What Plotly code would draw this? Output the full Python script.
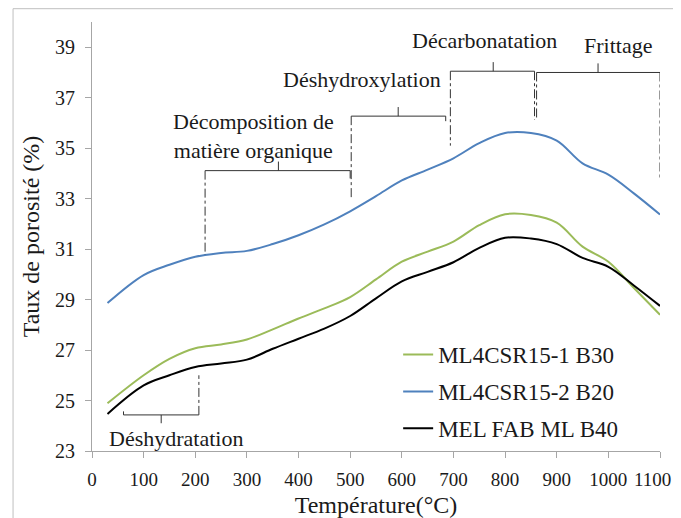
import plotly.graph_objects as go

temperature = [30, 100, 150, 200, 250, 300, 350, 400, 450, 500, 550,
               600, 650, 700, 750, 800, 850, 900, 950, 1000, 1050, 1100]
b30 = [24.89, 26.0, 26.65, 27.07, 27.22, 27.42, 27.82, 28.25, 28.65, 29.1, 29.8,
       30.5, 30.9, 31.3, 31.95, 32.38, 32.35, 32.05, 31.1, 30.5, 29.45, 28.4]
b20 = [28.86, 29.97, 30.38, 30.7, 30.85, 30.93, 31.2, 31.55, 31.98, 32.5, 33.1,
       33.72, 34.15, 34.6, 35.2, 35.6, 35.6, 35.3, 34.4, 33.95, 33.2, 32.37]
b40 = [24.47, 25.6, 26.0, 26.33, 26.47, 26.62, 27.05, 27.45, 27.85, 28.35, 29.05,
       29.72, 30.1, 30.48, 31.05, 31.45, 31.42, 31.2, 30.65, 30.3, 29.55, 28.75]

series_names = ["ML4CSR15-1 B30", "ML4CSR15-2 B20", "MEL FAB ML B40"]
series_colors = ["#9BBB59", "#4F81BD", "#000000"]

x_ticks = list(range(0, 1101, 100))
x_labels = [str(v) for v in x_ticks]
y_ticks = list(range(23, 40, 2))

# phases: label, text x, text y, bracket x0, x1, bracket y, nub x, left end y, right end y
phases = [
    ("Déshydratation", 162, 23.5, 61, 207, 24.43, 134, 24.57, 26.0),
    ("Décomposition de<br>matière organique", 313, 35.5, 219, 500, 34.11, 361, 30.77, 33.8),
    ("Déshydroxylation", 522, 37.72, 502, 685, 36.27, 593, 32.96, 36.07),
    ("Décarbonatation", 761, 39.28, 694, 857, 38.05, 777, 35.1, 36.13),
    ("Frittage", 1018, 39.08, 861, 1100, 38.0, 980, 36.13, 33.75),
]

FONT = "Liberation Serif"
TXT = "#1a1a1a"
fig = go.Figure()
for i, (name, vals) in enumerate(zip(series_names, [b30, b20, b40])):
    fig.add_trace(go.Scatter(x=temperature, y=vals, mode="lines", name=name,
                             line=dict(color=series_colors[i], width=2, shape="spline"),
                             legendgroup=name))

brk = dict(color="#333333", width=1)
dd = dict(color="#333333", width=1, dash="dashdot")
for k, (label, tx, ty, x0, x1, yb, xn, yl, yr) in enumerate(phases):
    fig.add_shape(type="line", x0=x0, x1=x1, y0=yb, y1=yb, line=brk)
    if k == 0:
        # bracket below the curve, nub points down
        fig.add_shape(type="line", x0=xn, x1=xn, y0=yb, y1=yb - 0.33, line=brk)
        fig.add_shape(type="line", x0=x0, x1=x0, y0=yb, y1=yl, line=brk)
        fig.add_shape(type="line", x0=x1, x1=x1, y0=yb, y1=yr, line=dd)
    else:
        fig.add_shape(type="line", x0=xn, x1=xn, y0=yb, y1=yb + 0.36, line=brk)
        fig.add_shape(type="line", x0=x0, x1=x0, y0=yb, y1=yl, line=dd)
        if k in (1, 2):
            fig.add_shape(type="line", x0=x1, x1=x1, y0=yb, y1=yr, line=brk)
        else:
            fig.add_shape(type="line", x0=x1, x1=x1, y0=yb, y1=yr, line=dd)
    fig.add_annotation(x=tx, y=ty, text=label, showarrow=False,
                       font=dict(family=FONT, size=22, color=TXT))

# last x tick label drawn by hand so it isn't clipped at the right edge
fig.add_annotation(x=x_ticks[-1], y=0, yref="paper", text=x_labels[-1], showarrow=False,
                   xanchor="right", yanchor="top", xshift=13, yshift=-16,
                   font=dict(family=FONT, size=19, color=TXT))
tick_text = x_labels[:-1] + [""]

# chart border
fig.add_shape(type="rect", xref="paper", yref="paper", x0=-0.139, x1=1.06,
              y0=-0.2, y1=1.031, line=dict(color="#bfbfbf", width=1))

# page body adds an 8px margin, so the figure is kept smaller than the window
fig.update_layout(
    width=673, height=510,
    margin=dict(l=84, r=21, t=14, b=67),
    paper_bgcolor="white", plot_bgcolor="white",
    font=dict(family=FONT, size=19, color=TXT),
    showlegend=True,
    legend=dict(x=0.539, y=0.275, xanchor="left", yanchor="top",
                font=dict(family=FONT, size=23, color=TXT),
                tracegroupgap=4, bgcolor="rgba(0,0,0,0)"),
    xaxis=dict(range=[0, 1100], tickvals=x_ticks, ticktext=tick_text,
               showgrid=False, zeroline=False,
               showline=True, linecolor="#a6a6a6", ticks="outside", ticklen=6,
               tickcolor="#a6a6a6", automargin=False, ticklabelstandoff=5,
               tickfont=dict(family=FONT, size=19, color=TXT),
               title=dict(text="Température(°C)", standoff=16,
                          font=dict(family=FONT, size=24))),
    yaxis=dict(range=[23, 40], tickvals=y_ticks, showgrid=False, zeroline=False,
               showline=True, linecolor="#a6a6a6", ticks="outside", ticklen=6,
               tickcolor="#a6a6a6", automargin=False, ticklabelstandoff=6,
               tickfont=dict(family=FONT, size=20, color=TXT),
               title=dict(text="Taux de porosité (%)", standoff=8,
                          font=dict(family=FONT, size=24))),
)

fig.write_html("out.html")
